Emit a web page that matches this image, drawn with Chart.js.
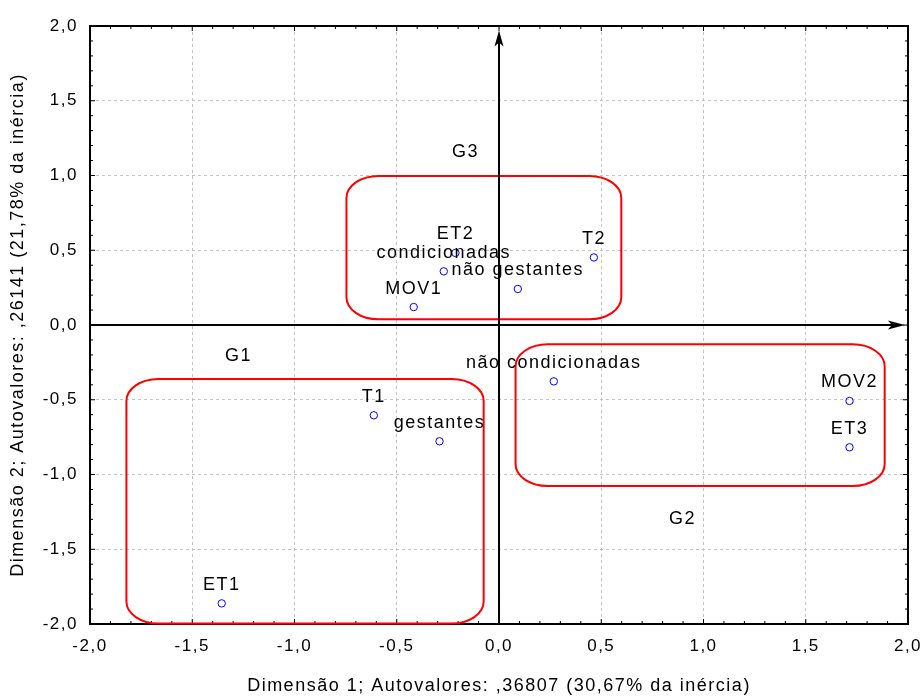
<!DOCTYPE html>
<html>
<head>
<meta charset="utf-8">
<script src="https://cdn.jsdelivr.net/npm/chart.js@4.4.1/dist/chart.umd.min.js"></script>
<style>
  html, body { margin: 0; padding: 0; background: #fff; }
</style>
</head>
<body>
<canvas id="chart" width="923" height="698"></canvas>
<script>
/* Correspondence analysis map: Dimensão 1 x Dimensão 2, grupos G1-G3 */

const LABELS = ["ET2", "condicionadas", "MOV1", "não gestantes", "T2",
  "não condicionadas", "MOV2", "ET3", "T1", "gestantes", "ET1"];
const DIM1 = [-0.213, -0.270, -0.417, 0.092, 0.464, 0.268, 1.714, 1.714, -0.612, -0.291, -1.356];
const DIM2 = [0.482, 0.359, 0.120, 0.241, 0.452, -0.377, -0.508, -0.818, -0.604, -0.778, -1.862];

// group boxes, in data units
const GROUP_NAMES = ["G1", "G2", "G3"];
const BOX_X0 = [-1.822, 0.081, -0.746];
const BOX_X1 = [-0.075, 1.886, 0.598];
const BOX_Y0 = [-1.997, -1.077, 0.038];
const BOX_Y1 = [-0.361, -0.129, 0.997];
const GROUP_LABEL_X = [-1.274, 0.897, -0.164];
const GROUP_LABEL_Y = [-0.207, -1.298, 1.157];

const X_TICK_LABELS = ["-2,0", "-1,5", "-1,0", "-0,5", "0,0", "0,5", "1,0", "1,5", "2,0"];
const Y_TICK_LABELS = ["-2,0", "-1,5", "-1,0", "-0,5", "0,0", "0,5", "1,0", "1,5", "2,0"];

const X_TITLE = "Dimensão 1; Autovalores: ,36807 (30,67% da inércia)";
const Y_TITLE = "Dimensão 2; Autovalores: ,26141 (21,78% da inércia)";

const FONT = "'Liberation Sans', Arial, sans-serif";

const annotations = {
  id: "annotations",
  beforeDraw(chart) {
    chart.ctx.letterSpacing = "1.5px";
  },
  beforeDatasetsDraw(chart) {
    const { ctx, chartArea: a, scales: { x, y } } = chart;
    ctx.save();

    // frame
    ctx.strokeStyle = "#000";
    ctx.lineWidth = 2;
    ctx.strokeRect(a.left, a.top, a.right - a.left, a.bottom - a.top);

    // small inner ticks every 0.1
    ctx.lineWidth = 1;
    ctx.beginPath();
    for (let k = -20; k <= 20; k++) {
      const len = k % 5 === 0 ? 5 : 3;
      const px = x.getPixelForValue(k / 10);
      const py = y.getPixelForValue(k / 10);
      ctx.moveTo(px, a.bottom); ctx.lineTo(px, a.bottom - len);
      ctx.moveTo(px, a.top); ctx.lineTo(px, a.top + len);
      ctx.moveTo(a.left, py); ctx.lineTo(a.left + len, py);
      ctx.moveTo(a.right, py); ctx.lineTo(a.right - len, py);
    }
    ctx.stroke();

    // group boxes
    ctx.strokeStyle = "#ff0000";
    ctx.lineWidth = 2;
    GROUP_NAMES.forEach((g, i) => {
      const l = x.getPixelForValue(BOX_X0[i]);
      const r = x.getPixelForValue(BOX_X1[i]);
      const t = y.getPixelForValue(BOX_Y1[i]);
      const b = y.getPixelForValue(BOX_Y0[i]);
      ctx.beginPath();
      ctx.roundRect(l, t, r - l, b - t, [{ x: 32, y: 22 }]);
      ctx.stroke();
    });

    // group names
    ctx.fillStyle = "#000";
    ctx.font = `18px ${FONT}`;
    ctx.textAlign = "center";
    ctx.textBaseline = "middle";
    GROUP_NAMES.forEach((g, i) => {
      ctx.fillText(g, x.getPixelForValue(GROUP_LABEL_X[i]), y.getPixelForValue(GROUP_LABEL_Y[i]));
    });

    // axes through the origin, with arrows
    const x0 = x.getPixelForValue(0);
    const y0 = y.getPixelForValue(0);
    const tipY = y.getPixelForValue(1.97);
    const tipX = x.getPixelForValue(1.985);
    ctx.strokeStyle = "#000";
    ctx.lineWidth = 2;
    ctx.beginPath();
    ctx.moveTo(x0, a.bottom); ctx.lineTo(x0, tipY + 8);
    ctx.moveTo(a.left, y0); ctx.lineTo(tipX - 8, y0);
    ctx.stroke();
    ctx.beginPath();
    ctx.moveTo(x0, tipY);
    ctx.lineTo(x0 - 4.5, tipY + 16);
    ctx.lineTo(x0, tipY + 12);
    ctx.lineTo(x0 + 4.5, tipY + 16);
    ctx.closePath();
    ctx.moveTo(tipX, y0);
    ctx.lineTo(tipX - 17, y0 - 4.5);
    ctx.lineTo(tipX - 13, y0);
    ctx.lineTo(tipX - 17, y0 + 4.5);
    ctx.closePath();
    ctx.fill();

    ctx.restore();
  },
  afterDatasetsDraw(chart) {
    const { ctx } = chart;
    const meta = chart.getDatasetMeta(0);
    ctx.save();
    ctx.fillStyle = "#000";
    ctx.font = `18px ${FONT}`;
    ctx.textAlign = "center";
    ctx.textBaseline = "alphabetic";
    meta.data.forEach((pt, i) => {
      ctx.fillText(LABELS[i], pt.x, pt.y - 13.5);
    });
    ctx.restore();
  },
};

new Chart(document.getElementById("chart"), {
  type: "scatter",
  data: {
    datasets: [
      {
        data: DIM1.map((v, i) => ({ x: v, y: DIM2[i] })),
        pointStyle: "circle",
        pointRadius: 3.7,
        pointBorderWidth: 1,
        pointBorderColor: "#0000ff",
        pointBackgroundColor: "rgba(0,0,0,0)",
      },
    ],
  },
  options: {
    responsive: false,
    animation: false,
    layout: { padding: { top: 26, right: 15, left: 0, bottom: 0 } },
    scales: {
      x: {
        type: "linear",
        min: -2,
        max: 2,
        afterFit: (s) => {
          s.height = 74;
          s.paddingLeft = 0;
          s.paddingRight = 0;
        },
        ticks: {
          stepSize: 0.5,
          padding: 12,
          color: "#000",
          font: { family: FONT, size: 17 },
          callback: (v, i) => X_TICK_LABELS[i],
        },
        grid: { color: "#c4c4c4", lineWidth: 1, drawTicks: false },
        border: { display: false, dash: [3, 3] },
        title: {
          display: true,
          text: X_TITLE,
          color: "#000",
          font: { family: FONT, size: 18 },
          padding: { top: 0, bottom: 1 },
        },
      },
      y: {
        type: "linear",
        min: -2,
        max: 2,
        afterFit: (s) => {
          s.width = 90;
          s.paddingTop = 0;
          s.paddingBottom = 0;
        },
        ticks: {
          stepSize: 0.5,
          padding: 12,
          color: "#000",
          font: { family: FONT, size: 17 },
          callback: (v, i) => Y_TICK_LABELS[i],
        },
        grid: { color: "#c4c4c4", lineWidth: 1, drawTicks: false },
        border: { display: false, dash: [3, 3] },
        title: {
          display: true,
          text: Y_TITLE,
          color: "#000",
          font: { family: FONT, size: 18 },
          padding: { top: 7, bottom: 0 },
        },
      },
    },
    plugins: {
      legend: { display: false },
      tooltip: { enabled: false },
    },
  },
  plugins: [annotations],
});
</script>
</body>
</html>
